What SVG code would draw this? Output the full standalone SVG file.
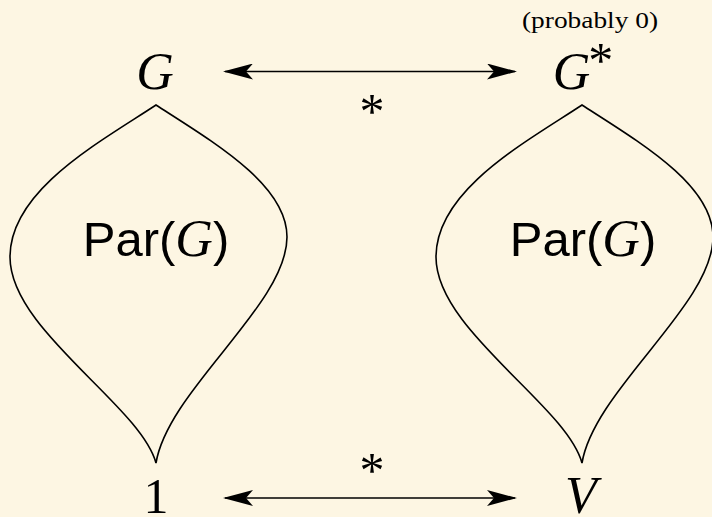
<svg xmlns="http://www.w3.org/2000/svg" width="712" height="517" viewBox="0 0 712 517">
<style>
.bg{fill:#fdf6e3}
.blob{fill:none;stroke:#000;stroke-width:1.6}
.conn{stroke:#000;stroke-width:1.6;fill:none}
.m{font-family:"Liberation Serif",serif;font-style:italic;font-size:52px;fill:#000}
.r{font-family:"Liberation Serif",serif;font-size:50px;fill:#000}
.s{font-family:"Liberation Sans",sans-serif;font-size:49px;fill:#000}
.small{font-family:"Liberation Serif",serif;font-size:24px;fill:#000}
</style>
<defs>
<marker id="st" viewBox="0 0 30 16" refX="28" refY="8" markerWidth="30" markerHeight="16" markerUnits="userSpaceOnUse" orient="auto-start-reverse">
<path d="M0,0 L30,8 L0,16 L7,8 Z" fill="#000"/>
</marker>
</defs>
<rect class="bg" width="712" height="517"/>
<g id="connectors">
<line class="conn" x1="225" y1="71.5" x2="515" y2="71.5" marker-start="url(#st)" marker-end="url(#st)"/>
<line class="conn" x1="225" y1="498" x2="515" y2="498" marker-start="url(#st)" marker-end="url(#st)"/>
<text class="r" x="372" y="128" text-anchor="middle">*</text>
<text class="r" x="372" y="487" text-anchor="middle">*</text>
</g>
<g id="node-G">
<text class="m" x="155" y="89" text-anchor="middle">G</text>
</g>
<g id="node-Gstar">
<text class="m" x="583" y="89" text-anchor="middle">G<tspan class="r" font-style="normal" font-size="30" dx="-2" dy="-12">*</tspan></text>
<text class="small" x="590" y="28" text-anchor="middle" textLength="136" lengthAdjust="spacingAndGlyphs">(probably 0)</text>
</g>
<g id="node-1">
<text class="r" x="156" y="513" text-anchor="middle">1</text>
</g>
<g id="node-V">
<text class="m" x="581" y="513" text-anchor="middle">V</text>
</g>
<g id="node-parG-left">
<path class="blob" d="M156,105 C215,143 287,185 287,237 C287,305 168,390 156,463 C140,405 10,330 10,257 C10,190 100,142 156,105 Z"/>
<text x="156" y="256" text-anchor="middle"><tspan class="s">Par(</tspan><tspan class="m" font-size="50">G</tspan><tspan class="s">)</tspan></text>
</g>
<g id="node-parG-right">
<path class="blob" d="M583,105 C642,143 714,185 714,237 C714,305 595,390 583,463 C567,405 437,330 437,257 C437,190 527,142 583,105 Z" transform="translate(-1,0)"/>
<text x="583" y="256" text-anchor="middle"><tspan class="s">Par(</tspan><tspan class="m" font-size="50">G</tspan><tspan class="s">)</tspan></text>
</g>
</svg>
